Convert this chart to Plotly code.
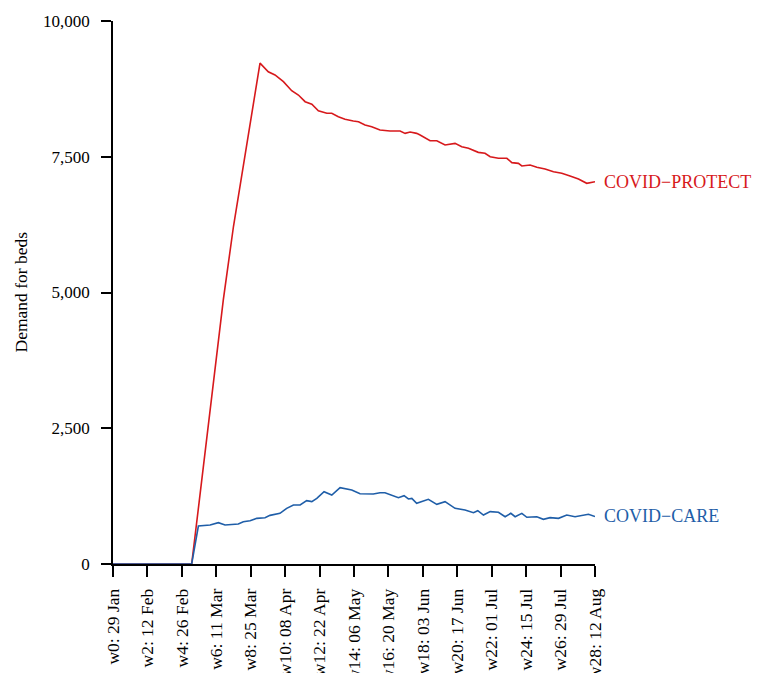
import plotly.graph_objects as go

# x in weeks since 29 Jan
tick_weeks = [0, 2, 4, 6, 8, 10, 12, 14, 16, 18, 20, 22, 24, 26, 28]
tick_labels = ["w0: 29 Jan", "w2: 12 Feb", "w4: 26 Feb", "w6: 11 Mar", "w8: 25 Mar",
               "w10: 08 Apr", "w12: 22 Apr", "w14: 06 May", "w16: 20 May", "w18: 03 Jun",
               "w20: 17 Jun", "w22: 01 Jul", "w24: 15 Jul", "w26: 29 Jul", "w28: 12 Aug"]

protect_weeks = [0, 4.57, 5.0, 5.58, 6.41, 7.0, 7.44, 8.0, 8.54, 9.02, 9.41, 9.90, 10.38,
                 10.77, 11.16, 11.55, 11.93, 12.42, 12.71, 13.09, 13.48, 13.96, 14.26, 14.64,
                 15.03, 15.51, 16.09, 16.68, 16.97, 17.26, 17.64, 17.84, 18.42, 18.81, 19.29,
                 19.87, 20.26, 20.65, 21.22, 21.61, 21.91, 22.39, 22.88, 23.17, 23.55, 23.75,
                 24.23, 24.62, 25.10, 25.59, 26.07, 26.55, 27.04, 27.52, 28.0]
protect_beds = [0, 0, 1130, 2650, 4870, 6220, 7070, 8230, 9225, 9066, 9006, 8882, 8717,
                8637, 8514, 8466, 8348, 8300, 8300, 8238, 8190, 8158, 8146, 8085,
                8054, 7993, 7974, 7974, 7931, 7956, 7931, 7900, 7796, 7796, 7716,
                7747, 7685, 7655, 7581, 7563, 7501, 7471, 7471, 7391, 7378, 7330,
                7348, 7305, 7274, 7225, 7195, 7145, 7090, 7011, 7040]

care_weeks = [0, 4.57, 4.96, 5.64, 6.12, 6.51, 7.28, 7.57, 7.96, 8.35, 8.83, 9.12, 9.70,
              10.09, 10.48, 10.87, 11.25, 11.55, 11.84, 12.26, 12.71, 13.19, 13.87, 14.35,
              15.12, 15.51, 15.80, 16.58, 16.91, 17.16, 17.36, 17.64, 18.32, 18.81, 19.29,
              19.87, 20.45, 20.94, 21.19, 21.52, 21.91, 22.39, 22.78, 23.11, 23.36, 23.75,
              24.04, 24.62, 25.00, 25.39, 25.88, 26.36, 26.84, 27.62, 28.0]
care_beds = [0, 0, 700, 718, 761, 718, 737, 779, 798, 841, 853, 896, 933,
             1025, 1087, 1087, 1166, 1148, 1209, 1332, 1271, 1406, 1363, 1295,
             1289, 1313, 1313, 1221, 1258, 1197, 1209, 1118, 1191, 1099, 1148,
             1025, 995, 945, 982, 902, 964, 952, 871, 933, 871, 933,
             860, 871, 823, 853, 841, 902, 871, 915, 875]

series_names = ["COVID\u2212PROTECT", "COVID\u2212CARE"]
red = "#d7191c"
blue = "#1f5ea8"
FONT = "Liberation Serif"

fig = go.Figure()
fig.add_trace(go.Scatter(x=protect_weeks, y=protect_beds, mode="lines",
                         line=dict(color=red, width=1.6), name=series_names[0],
                         cliponaxis=False))
fig.add_trace(go.Scatter(x=care_weeks, y=care_beds, mode="lines",
                         line=dict(color=blue, width=1.6), name=series_names[1],
                         cliponaxis=False))

fig.add_annotation(x=protect_weeks[-1], y=protect_beds[-1], text=series_names[0],
                   showarrow=False, xanchor="left", yanchor="middle", xshift=7,
                   font=dict(family=FONT, size=18, color=red))
fig.add_annotation(x=care_weeks[-1], y=care_beds[-1], text=series_names[1],
                   showarrow=False, xanchor="left", yanchor="middle", xshift=7,
                   font=dict(family=FONT, size=18, color=blue))
fig.add_annotation(xref="paper", yref="paper", x=(20 - 113) / 482, y=0.5,
                   text="Demand for beds", textangle=-90, showarrow=False,
                   xanchor="center", yanchor="middle",
                   font=dict(family=FONT, size=17.5, color="black"))

fig.update_layout(
    width=752, height=665,
    margin=dict(l=105, r=165, t=13, b=109),
    plot_bgcolor="white", paper_bgcolor="white",
    showlegend=False,
    font=dict(family=FONT, size=17, color="black"),
)
fig.update_xaxes(range=[0, 28], tickmode="array", tickvals=tick_weeks, ticktext=tick_labels,
                 tickangle=-90, showgrid=False, zeroline=False, showline=True,
                 linecolor="black", linewidth=1.5, ticks="outside", ticklen=11,
                 tickwidth=1.5, tickcolor="black", automargin=False, ticklabelstandoff=5,
                 tickfont=dict(family=FONT, size=17.5, color="black"))
fig.update_yaxes(range=[0, 10000], tickmode="array", tickvals=[0, 2500, 5000, 7500, 10000],
                 tickformat=",", showgrid=False, zeroline=False, showline=True,
                 linecolor="black", linewidth=1.5, ticks="outside", ticklen=10,
                 tickwidth=1.5, tickcolor="black", automargin=False, ticklabelstandoff=8,
                 tickfont=dict(family=FONT, size=17, color="black"))

fig.write_html("out.html")
